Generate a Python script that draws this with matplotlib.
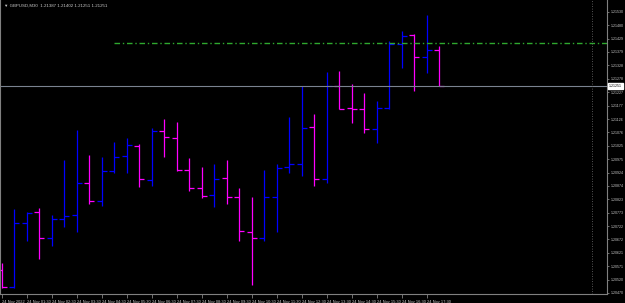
import matplotlib
matplotlib.use("Agg")
import matplotlib.pyplot as plt

# GBPUSD M30 bars, 24 Nov 2022
opens = [1.20556, 1.20492, 1.20734, 1.20775, 1.20677, 1.20749, 1.20764, 1.20885,
         1.20817, 1.20930, 1.20987, 1.21024, 1.20896, 1.21081, 1.21055, 1.20934,
         1.20866, 1.20839, 1.20904, 1.20832, 1.20700, 1.20677, 1.20832, 1.20945,
         1.20956, 1.21096, 1.20900, 1.21251, 1.21168, 1.21164, 1.21088, 1.21168,
         1.21409, 1.21443, 1.21360, 1.21387]
highs = [1.20583, 1.20787, 1.20775, 1.20790, 1.20764, 1.20971, 1.21085, 1.20990,
         1.20983, 1.21039, 1.21055, 1.21032, 1.21092, 1.21126, 1.21115, 1.20979,
         1.20945, 1.20956, 1.20971, 1.20866, 1.20832, 1.20934, 1.20956, 1.21134,
         1.21251, 1.21145, 1.21304, 1.21307, 1.21258, 1.21224, 1.21194, 1.21421,
         1.21458, 1.21447, 1.21519, 1.21402]
lows = [1.20488, 1.20488, 1.20666, 1.20598, 1.20647, 1.20719, 1.20700, 1.20805,
        1.20798, 1.20922, 1.20922, 1.20870, 1.20873, 1.20983, 1.20930, 1.20854,
        1.20828, 1.20794, 1.20805, 1.20666, 1.20500, 1.20666, 1.20700, 1.20922,
        1.20911, 1.20873, 1.20885, 1.21164, 1.21111, 1.21073, 1.21036, 1.21164,
        1.21319, 1.21232, 1.21300, 1.21251]
closes = [1.20492, 1.20734, 1.20771, 1.20677, 1.20749, 1.20760, 1.20885, 1.20817,
          1.20930, 1.20983, 1.21028, 1.20900, 1.21081, 1.21058, 1.20934, 1.20866,
          1.20836, 1.20900, 1.20832, 1.20704, 1.20677, 1.20832, 1.20941, 1.20956,
          1.21092, 1.20900, 1.21251, 1.21164, 1.21164, 1.21088, 1.21168, 1.21409,
          1.21439, 1.21360, 1.21387, 1.21251]

time_labels = ["24 Nov 2022", "24 Nov 01:30", "24 Nov 02:30", "24 Nov 03:30",
               "24 Nov 04:30", "24 Nov 05:30", "24 Nov 06:30", "24 Nov 07:30",
               "24 Nov 08:30", "24 Nov 09:30", "24 Nov 10:30", "24 Nov 11:30",
               "24 Nov 12:30", "24 Nov 13:30", "24 Nov 14:30", "24 Nov 15:30",
               "24 Nov 16:30", "24 Nov 17:30"]
price_ticks = [1.21530, 1.21480, 1.21429, 1.21379, 1.21328, 1.21278, 1.21227,
               1.21177, 1.21126, 1.21076, 1.21025, 1.20975, 1.20924, 1.20874,
               1.20823, 1.20773, 1.20722, 1.20672, 1.20621, 1.20571, 1.20520,
               1.20470]

level_price = 1.21412   # green dash-dot level
level_start = 9         # bar where the level begins
symbol = "GBPUSD,M30"

UP = "#0000ff"
DOWN = "#ff00ff"
GRID = "#808080"
TXT = "#c8c8c8"
FS = 2.9
FSY = 2.6

plt.rcParams["font.family"] = ["Liberation Sans", "DejaVu Sans"]

fig = plt.figure(figsize=(6.25, 3.03), dpi=100, facecolor="black")
ax = fig.add_axes([0.0, 9 / 303, 607 / 625, 294 / 303], facecolor="black")

n = len(opens)
for i in range(n):
    col = UP if closes[i] >= opens[i] else DOWN
    ax.vlines(i, lows[i], highs[i], color=col, lw=0.9)
    ax.hlines(opens[i], i - 0.4, i, color=col, lw=0.9)
    ax.hlines(closes[i], i, i + 0.4, color=col, lw=0.9)

# level line and current price line
ax.hlines(level_price, level_start, 60, color="#2ea82e", lw=1.0,
          linestyles=(0, (4, 2, 1, 2)))
ax.axhline(closes[-1], color="#7a8290", lw=0.8)

# chart shift marker
ax.axvline(n + 11.2, color="#707070", lw=0.6, ls=(0, (1, 2)))

ax.set_xlim(-0.12, 48.44)
ax.set_ylim(1.20466, 1.21575)

ax.yaxis.tick_right()
ax.set_yticks(price_ticks)
ax.set_yticklabels([f"{p:.5f}" for p in price_ticks])
ax.set_xticks(range(0, 2 * len(time_labels), 2))
ax.set_xticklabels(time_labels, ha="left")
ax.tick_params(axis="y", colors=GRID, labelcolor=TXT, labelsize=FSY,
               length=1.5, width=0.6, pad=1)
ax.tick_params(axis="x", colors=GRID, labelcolor=TXT, labelsize=FS,
               length=3, width=0.6, pad=1)

for side in ["left", "right", "bottom", "top"]:
    ax.spines[side].set_color(GRID)
    ax.spines[side].set_linewidth(0.8)
ax.spines["top"].set_visible(False)

# current price tag
ax.annotate(f"{closes[-1]:.5f}", xy=(1.0, closes[-1]), xycoords=("axes fraction", "data"),
            xytext=(1.5, 0), textcoords="offset points", ha="left", va="center",
            fontsize=FSY, color="black",
            bbox=dict(boxstyle="square,pad=0.2", fc="white", ec="white"))

# header with last bar values
header = "\u25bc " + symbol + "  " + " ".join(
    f"{v:.5f}" for v in (opens[-1], highs[-1], lows[-1], closes[-1]))
ax.text(0.006, 0.988, header, transform=ax.transAxes, ha="left", va="top",
        fontsize=FS + 0.3, color=TXT)

fig.savefig("out.png", dpi=100, facecolor="black")
